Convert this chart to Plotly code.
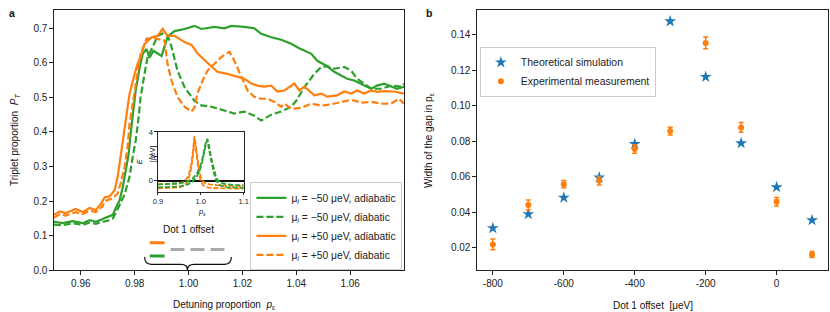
import plotly.graph_objects as go

FONT = "Liberation Sans, Arial, sans-serif"
GREEN = "#2ca02c"
ORANGE = "#ff7f0e"
BLUE = "#1f77b4"

# ---------------- panel a: triplet proportion vs detuning proportion ----------------
gs_x = [0.9500, 0.9533, 0.9570, 0.9607, 0.9633, 0.9656, 0.9681, 0.9700, 0.9719, 0.9730, 0.9744,
        0.9756, 0.9767, 0.9778, 0.9785, 0.9793, 0.9804, 0.9819, 0.9830, 0.9844, 0.9855, 0.9870,
        0.9900, 0.9922, 0.9948, 0.9985, 1.0022, 1.0048, 1.0096, 1.0133, 1.0159, 1.0207, 1.0244,
        1.0270, 1.0307, 1.0344, 1.0381, 1.0411, 1.0456, 1.0478, 1.0515, 1.0541, 1.0567, 1.0589,
        1.0615, 1.0652, 1.0678, 1.0700, 1.0726, 1.0750, 1.0774, 1.0800]
gs_y = [0.140, 0.136, 0.142, 0.136, 0.145, 0.140, 0.148, 0.154, 0.160, 0.180, 0.202,
        0.240, 0.290, 0.338, 0.395, 0.453, 0.520, 0.588, 0.626, 0.640, 0.615, 0.635,
        0.620, 0.675, 0.692, 0.698, 0.707, 0.698, 0.704, 0.700, 0.707, 0.704, 0.700,
        0.684, 0.674, 0.667, 0.655, 0.642, 0.626, 0.606, 0.590, 0.574, 0.563, 0.554,
        0.549, 0.534, 0.525, 0.534, 0.540, 0.532, 0.525, 0.531]

gd_x = [0.9500, 0.9533, 0.9570, 0.9607, 0.9633, 0.9656, 0.9681, 0.9700, 0.9719, 0.9730, 0.9744,
        0.9763, 0.9781, 0.9793, 0.9804, 0.9815, 0.9822, 0.9837, 0.9848, 0.9867, 0.9885, 0.9904,
        0.9922, 0.9937, 0.9959, 0.9985, 1.0022, 1.0048, 1.0085, 1.0133, 1.0170, 1.0207, 1.0244,
        1.0270, 1.0307, 1.0344, 1.0381, 1.0400, 1.0430, 1.0467, 1.0493, 1.0515, 1.0541, 1.0578,
        1.0604, 1.0626, 1.0652, 1.0678, 1.0715, 1.0752, 1.0793, 1.0800]
gd_y = [0.132, 0.130, 0.136, 0.131, 0.138, 0.134, 0.140, 0.143, 0.150, 0.165, 0.188,
        0.220, 0.270, 0.330, 0.375, 0.444, 0.500, 0.570, 0.617, 0.646, 0.678, 0.685,
        0.680, 0.646, 0.577, 0.530, 0.490, 0.477, 0.473, 0.462, 0.453, 0.459, 0.447,
        0.433, 0.450, 0.459, 0.473, 0.490, 0.530, 0.568, 0.588, 0.590, 0.583, 0.588,
        0.577, 0.554, 0.540, 0.525, 0.525, 0.534, 0.531, 0.540]

os_x = [0.9500, 0.9522, 0.9544, 0.9581, 0.9607, 0.9633, 0.9656, 0.9674, 0.9689, 0.9707, 0.9726,
        0.9737, 0.9748, 0.9760, 0.9770, 0.9781, 0.9800, 0.9811, 0.9822, 0.9837, 0.9863, 0.9885,
        0.9904, 0.9922, 0.9948, 0.9985, 1.0011, 1.0033, 1.0059, 1.0085, 1.0107, 1.0144, 1.0181,
        1.0207, 1.0233, 1.0256, 1.0281, 1.0307, 1.0330, 1.0356, 1.0393, 1.0411, 1.0430, 1.0467,
        1.0493, 1.0515, 1.0552, 1.0578, 1.0604, 1.0626, 1.0652, 1.0678, 1.0700, 1.0726, 1.0763,
        1.0800]
os_y = [0.160, 0.170, 0.165, 0.177, 0.168, 0.180, 0.174, 0.191, 0.211, 0.214, 0.231,
        0.270, 0.330, 0.395, 0.453, 0.510, 0.568, 0.597, 0.617, 0.655, 0.674, 0.678,
        0.698, 0.678, 0.678, 0.660, 0.652, 0.628, 0.608, 0.590, 0.574, 0.568, 0.560,
        0.554, 0.540, 0.534, 0.531, 0.534, 0.517, 0.520, 0.540, 0.520, 0.531, 0.506,
        0.511, 0.502, 0.506, 0.517, 0.511, 0.520, 0.511, 0.520, 0.516, 0.518, 0.517,
        0.511]

od_x = [0.9500, 0.9522, 0.9544, 0.9581, 0.9607, 0.9633, 0.9656, 0.9681, 0.9689, 0.9719, 0.9737,
        0.9748, 0.9763, 0.9774, 0.9781, 0.9793, 0.9804, 0.9815, 0.9822, 0.9837, 0.9844, 0.9870,
        0.9911, 0.9922, 0.9937, 0.9959, 0.9985, 1.0011, 1.0022, 1.0033, 1.0052, 1.0070, 1.0096,
        1.0122, 1.0152, 1.0170, 1.0196, 1.0219, 1.0244, 1.0270, 1.0293, 1.0319, 1.0344, 1.0356,
        1.0381, 1.0419, 1.0456, 1.0493, 1.0530, 1.0567, 1.0604, 1.0641, 1.0678, 1.0715, 1.0752,
        1.0781, 1.0800]
od_y = [0.152, 0.162, 0.158, 0.168, 0.162, 0.172, 0.168, 0.185, 0.200, 0.208, 0.222,
        0.251, 0.300, 0.358, 0.424, 0.482, 0.548, 0.597, 0.626, 0.655, 0.670, 0.672,
        0.664, 0.597, 0.548, 0.502, 0.473, 0.459, 0.470, 0.511, 0.548, 0.577, 0.597,
        0.617, 0.632, 0.606, 0.560, 0.520, 0.502, 0.496, 0.496, 0.487, 0.473, 0.482,
        0.467, 0.470, 0.482, 0.476, 0.480, 0.487, 0.493, 0.485, 0.487, 0.482, 0.482,
        0.496, 0.482]

# inset: energy E [ueV] vs p_eps
in_ox = [0.90, 0.93, 0.95, 0.96, 0.968, 0.974, 0.978, 0.982, 0.985, 0.988, 0.992, 0.996, 1.000,
         1.005, 1.010, 1.020, 1.040, 1.070, 1.10]
in_o1 = [-0.30, -0.28, -0.22, -0.10, 0.20, 0.75, 1.40, 2.50, 3.65, 3.00, 1.80, 0.90, 0.30,
         -0.05, -0.20, -0.30, -0.38, -0.42, -0.45]
in_o2 = [-0.62, -0.60, -0.55, -0.42, -0.15, 0.45, 1.10, 2.20, 3.40, 2.70, 1.40, 0.50, -0.05,
         -0.35, -0.50, -0.58, -0.62, -0.65, -0.65]
in_gx = [0.90, 0.93, 0.95, 0.97, 0.98, 0.99, 0.997, 1.003, 1.008, 1.012, 1.015, 1.019, 1.024,
         1.030, 1.036, 1.045, 1.060, 1.080, 1.10]
in_g1 = [-0.30, -0.28, -0.22, -0.05, 0.15, 0.55, 1.00, 1.70, 2.60, 3.20, 3.43, 2.90, 1.90,
         0.90, 0.20, -0.15, -0.30, -0.35, -0.38]
in_g2 = [-0.55, -0.52, -0.48, -0.30, -0.10, 0.30, 0.80, 1.50, 2.40, 3.05, 3.30, 2.70, 1.70,
         0.70, 0.00, -0.38, -0.52, -0.56, -0.58]

# ---------------- panel b: width of the gap vs dot 1 offset ----------------
offset = [-800, -700, -600, -500, -400, -300, -200, -100, 0, 100]
theory = [0.0311, 0.0390, 0.0483, 0.0597, 0.0785, 0.1477, 0.1164, 0.0790, 0.0542, 0.0356]
exper = [0.0219, 0.0441, 0.0559, 0.0578, 0.0757, 0.0858, 0.1355, 0.0879, 0.0460, 0.0162]
exper_err = [0.0030, 0.0028, 0.0020, 0.0024, 0.0024, 0.0022, 0.0033, 0.0027, 0.0024, 0.0017]

labels_a = ["μ<sub><i>i</i></sub> = −50 μeV, adiabatic", "μ<sub><i>i</i></sub> = −50 μeV, diabatic",
            "μ<sub><i>i</i></sub> = +50 μeV, adiabatic", "μ<sub><i>i</i></sub> = +50 μeV, diabatic"]

fig = go.Figure()
DASH = "7px,3px"
fig.add_trace(go.Scatter(x=gs_x, y=gs_y, mode="lines", line=dict(color=GREEN, width=2.2),
                         name=labels_a[0], legend="legend"))
fig.add_trace(go.Scatter(x=gd_x, y=gd_y, mode="lines", line=dict(color=GREEN, width=2.2, dash=DASH),
                         name=labels_a[1], legend="legend"))
fig.add_trace(go.Scatter(x=os_x, y=os_y, mode="lines", line=dict(color=ORANGE, width=2.2),
                         name=labels_a[2], legend="legend"))
fig.add_trace(go.Scatter(x=od_x, y=od_y, mode="lines", line=dict(color=ORANGE, width=2.2, dash=DASH),
                         name=labels_a[3], legend="legend"))

IDASH = "5px,2px"
for xs, ys, c in [(in_ox, in_o1, ORANGE), (in_ox, in_o2, ORANGE), (in_gx, in_g1, GREEN), (in_gx, in_g2, GREEN)]:
    fig.add_trace(go.Scatter(x=xs, y=ys, mode="lines", line=dict(color=c, width=1.8, dash=IDASH),
                             xaxis="x3", yaxis="y3", showlegend=False))

fig.add_trace(go.Scatter(x=offset, y=theory, mode="markers", xaxis="x2", yaxis="y2",
                         marker=dict(symbol="star", size=9, color=BLUE),
                         name="Theoretical simulation", legend="legend2"))
fig.add_trace(go.Scatter(x=offset, y=exper, mode="markers", xaxis="x2", yaxis="y2",
                         marker=dict(symbol="circle", size=6, color=ORANGE),
                         error_y=dict(type="data", array=exper_err, color=ORANGE, thickness=1.5, width=2.5),
                         name="Experimental measurement", legend="legend2"))

axis_common = dict(showline=True, linecolor="#222222", linewidth=1, mirror=True, ticks="outside",
                   ticklen=3.5, tickwidth=0.8, tickcolor="#222222", showgrid=False, zeroline=False,
                   tickfont=dict(family=FONT, size=10, color="#222222"))

Y0, Y1 = 0.1442, 0.9808
fig.update_layout(
    width=830, height=312, margin=dict(l=0, r=0, t=0, b=0),
    paper_bgcolor="white", plot_bgcolor="white",
    font=dict(family=FONT, size=10, color="#222222"),
    xaxis=dict(domain=[0.0590, 0.4819], range=[0.95, 1.08], tickvals=[0.96, 0.98, 1.00, 1.02, 1.04, 1.06],
               ticktext=["0.96", "0.98", "1.00", "1.02", "1.04", "1.06"], anchor="y", **axis_common),
    yaxis=dict(domain=[Y0, Y1], range=[0, 0.753], tickvals=[0, 0.1, 0.2, 0.3, 0.4, 0.5, 0.6, 0.7],
               ticktext=["0.0", "0.1", "0.2", "0.3", "0.4", "0.5", "0.6", "0.7"], anchor="x", **axis_common),
    xaxis2=dict(domain=[0.5699, 0.9940], range=[-845, 145], tickvals=[-800, -600, -400, -200, 0],
                ticktext=["-800", "-600", "-400", "-200", "0"], anchor="y2", **axis_common),
    yaxis2=dict(domain=[Y0, Y1], range=[0.0074, 0.1541], tickvals=[0.02, 0.04, 0.06, 0.08, 0.10, 0.12, 0.14],
                ticktext=["0.02", "0.04", "0.06", "0.08", "0.10", "0.12", "0.14"], anchor="x2", **axis_common),
    xaxis3=dict(domain=[0.1847, 0.2883], range=[0.9, 1.1], tickvals=[0.9, 1.0, 1.1], ticktext=["0.9", "1.0", "1.1"],
                anchor="y3", showline=True, linecolor="#222222", linewidth=1, mirror=True, ticks="outside",
                ticklen=2.5, tickwidth=0.7, tickcolor="#222222", showgrid=False, zeroline=False,
                tickfont=dict(family=FONT, size=7.5, color="#222222")),
    yaxis3=dict(domain=[0.3965, 0.5888], range=[-0.9, 4.0], tickvals=[0, 2, 4], ticktext=["0", "2", "4"],
                anchor="x3", showline=True, linecolor="#222222", linewidth=1, mirror=True, ticks="outside",
                ticklen=2.5, tickwidth=0.7, tickcolor="#222222", showgrid=False,
                zeroline=True, zerolinecolor="#111111", zerolinewidth=1.5,
                tickfont=dict(family=FONT, size=7.5, color="#222222")),
    legend=dict(x=246 / 830, y=(312 - 179) / 312, xanchor="left", yanchor="top", bgcolor="white",
                bordercolor="#cccccc", borderwidth=1, font=dict(family=FONT, size=10.3, color="#222222"),
                itemwidth=30, tracegroupgap=0),
    legend2=dict(x=476 / 830, y=(312 - 43) / 312, xanchor="left", yanchor="top", bgcolor="white",
                 bordercolor="#cccccc", borderwidth=1, font=dict(family=FONT, size=10.5, color="#222222"),
                 itemwidth=30),
)

def pap(px_x, px_y):
    return px_x / 830.0, (312.0 - px_y) / 312.0

ann = []
def add_text(text, px_x, px_y, size=10, angle=0, bold=False):
    x, y = pap(px_x, px_y)
    ann.append(dict(text=("<b>%s</b>" % text) if bold else text, x=x, y=y, xref="paper", yref="paper",
                    showarrow=False, xanchor="center", yanchor="middle", textangle=angle,
                    font=dict(family=FONT, size=size, color="#111111")))

add_text("a", 7, 9, size=10.5, bold=True)
add_text("b", 425, 9, size=10.5, bold=True)
add_text("Triplet proportion  <i>P</i><sub><i>T</i></sub>", 10, 136.5, angle=-90)
add_text("Detuning proportion  <i>p</i><sub>ε</sub>", 220, 302)
add_text("Width of the gap in p<sub>ε</sub>", 425, 136.5, angle=-90)
add_text("Dot 1 offset  [μeV]", 650, 302)
add_text("<i>p</i><sub>ε</sub>", 197, 209, size=7.5)
add_text("<i>E</i>", 135, 158, size=7.5, angle=-90)
add_text("[μeV]", 148, 150, size=7, angle=-90)
ann.append(dict(text="Dot 1 offset", x=1.0, y=0.118, xref="x", yref="y", showarrow=False,
                xanchor="center", yanchor="middle", font=dict(family=FONT, size=10, color="#111111")))
fig.update_layout(annotations=ann)

shapes = [
    dict(type="line", xref="x", yref="y", x0=0.9856, x1=0.9911, y0=0.079, y1=0.079,
         line=dict(color=ORANGE, width=3)),
    dict(type="line", xref="x", yref="y", x0=0.9856, x1=0.9911, y0=0.041, y1=0.041,
         line=dict(color=GREEN, width=3)),
    dict(type="line", xref="x", yref="y", x0=0.9933, x1=1.0146, y0=0.060, y1=0.060,
         line=dict(color="#aaaaaa", width=3, dash="14px,6px")),
    dict(type="path", xref="x", yref="y",
         path="M 0.9837,0.038 Q 0.9837,0.017 0.9862,0.017 L 0.9972,0.017 Q 0.9996,0.017 0.9996,0.0 "
              "Q 0.9996,0.017 1.0020,0.017 L 1.0134,0.017 Q 1.0159,0.017 1.0159,0.038",
         line=dict(color="#111111", width=1.2)),
]
fig.update_layout(shapes=shapes)

fig.write_html("out.html", config={"displayModeBar": False},
               post_script="document.body.style.margin='0px';document.body.style.padding='0px';"
                           "Plotly.relayout('{plot_id}', {width: 838, height: 320});")
